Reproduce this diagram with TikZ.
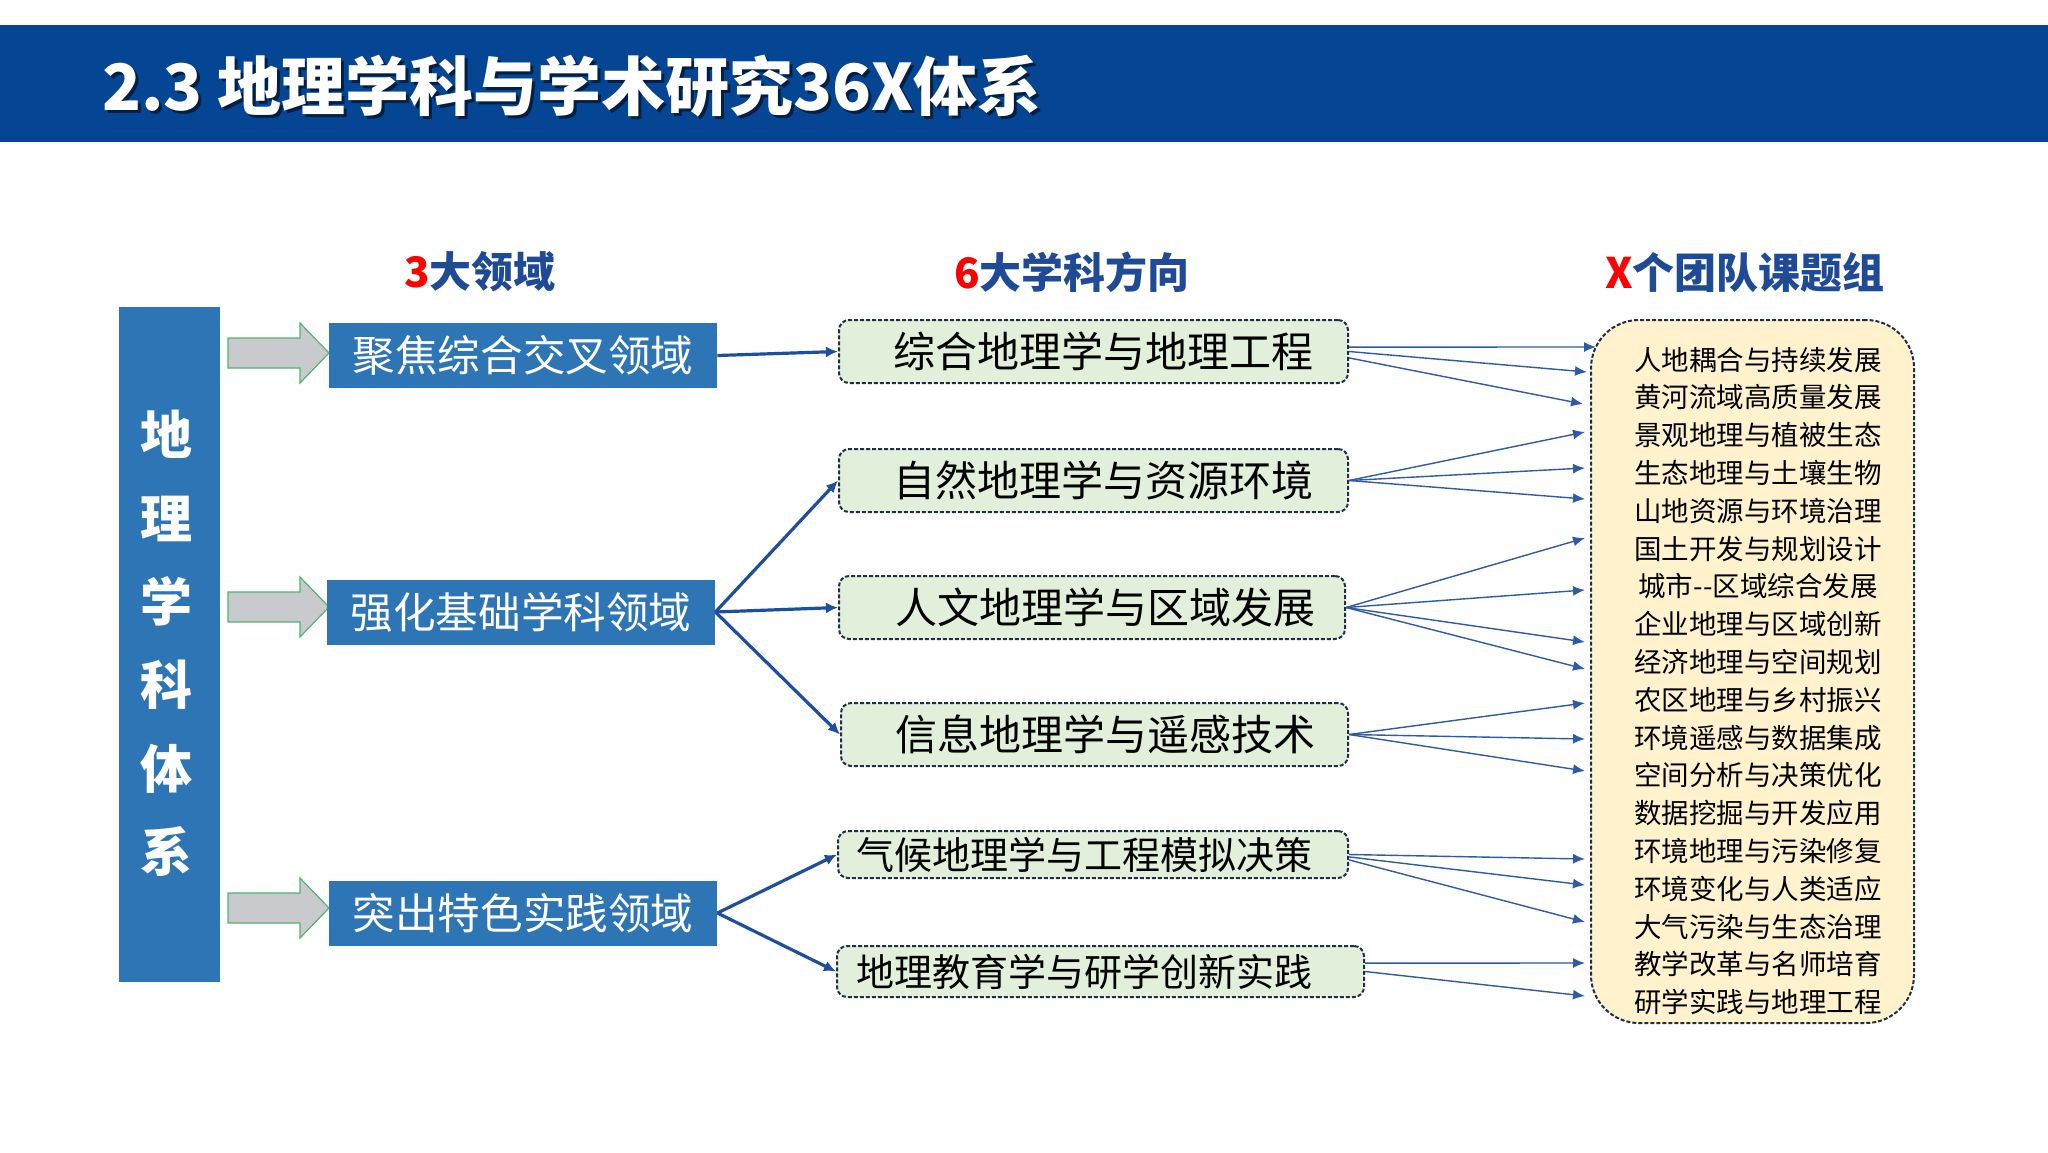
\documentclass[tikz,border=0pt]{standalone}
\usepackage{fontspec}
\setmainfont{Noto Sans CJK SC}
\usetikzlibrary{arrows.meta}
\definecolor{barblue}{RGB}{4,69,148}
\definecolor{boxblue}{RGB}{46,117,182}
\definecolor{headblue}{RGB}{30,74,150}
\definecolor{dirfill}{RGB}{226,239,218}
\definecolor{lstfill}{RGB}{255,242,204}
\definecolor{dashcol}{RGB}{32,46,72}
\definecolor{arrblue}{RGB}{30,78,156}
\definecolor{thinblue}{RGB}{47,90,165}
\definecolor{arrgray}{RGB}{200,202,206}
\definecolor{arrgreen}{RGB}{84,180,110}
\begin{document}
\begin{tikzpicture}[x=0.5pt,y=-0.5pt,
  domainbox/.style={fill=boxblue, draw=none, minimum width=194pt, minimum height=32.5pt, inner sep=0pt, text=white, font=\fontsize{21.3pt}{24pt}\selectfont},
  dirbox/.style={fill=dirfill, draw=dashcol, line width=1pt, dash pattern=on 2pt off 1pt, rounded corners=5pt, inner sep=0pt},
  dirtext/.style={anchor=east, inner sep=0pt, font=\fontsize{21pt}{24pt}\selectfont},
  dirtextsmall/.style={anchor=east, inner sep=0pt, font=\fontsize{19pt}{22pt}\selectfont},
  headtext/.style={inner sep=0pt, text=headblue, font=\bfseries\fontsize{21pt}{24pt}\selectfont},
  bigarrow/.style={draw=arrblue, line width=1.6pt, -{Latex[length=6pt,width=5.5pt]}},
  smallarrow/.style={draw=thinblue, line width=0.7pt, -{Latex[length=6pt,width=5pt]}},
  grayarrow/.style={fill=arrgray, draw=arrgreen, line width=0.6pt}
]
\useasboundingbox (0,0) rectangle (2048,1152);
\fill[white] (0,0) rectangle (2048,1152);
% title bar
\fill[barblue] (0,25) rectangle (2048,142);
\node[anchor=west, inner sep=0pt, text=black, opacity=0.55, font=\bfseries\fontsize{32pt}{36pt}\selectfont] (titleshadow) at (105,89) {2.3 地理学科与学术研究36X体系};
\node[anchor=west, inner sep=0pt, text=white, font=\bfseries\fontsize{32pt}{36pt}\selectfont] (title) at (102,86) {2.3 地理学科与学术研究36X体系};
% headers
\node[headtext] (h1) at (480,272) {{\color{red}3}大领域};
\node[headtext] (h2) at (1072,272) {{\color{red}6}大学科方向};
\node[headtext] (h3) at (1745,272) {{\color{red}X}个团队课题组};
% left vertical box
\node[fill=boxblue, minimum width=50.5pt, minimum height=337.5pt, inner sep=0pt] (vbox) at (169.5,644.5) {};
\node[text=white, align=center, inner sep=0pt, font=\bfseries\fontsize{26pt}{41.7pt}\selectfont] (vtext) at (166,643.5) {地\\理\\学\\科\\体\\系};
% gray arrows
\foreach \yy in {353,607,908}{
  \filldraw[grayarrow] (228,\yy-15) -- (300,\yy-15) -- (300,\yy-30) -- (329,\yy) -- (300,\yy+30) -- (300,\yy+15) -- (228,\yy+15) -- cycle;
}
% domain boxes
\node[domainbox] (d1) at (523,355.5) {聚焦综合交叉领域};
\node[domainbox] (d2) at (521,612) {强化基础学科领域};
\node[domainbox] (d3) at (523,913) {突出特色实践领域};
% direction boxes
\node[dirbox, minimum width=254.5pt, minimum height=31.5pt] (r1) at (1093.5,351.5) {};
\node[dirbox, minimum width=254.5pt, minimum height=31.5pt] (r2) at (1093.5,480.5) {};
\node[dirbox, minimum width=253pt, minimum height=31.5pt] (r3) at (1092,607.5) {};
\node[dirbox, minimum width=253.5pt, minimum height=31.5pt] (r4) at (1094.5,734.5) {};
\node[dirbox, minimum width=255pt, minimum height=23.5pt] (r5) at (1093,854.5) {};
\node[dirbox, minimum width=263.5pt, minimum height=25.5pt] (r6) at (1100.5,971.5) {};
\node[dirtext] (r1t) at (1314,351.5) {综合地理学与地理工程};
\node[dirtext] (r2t) at (1314,480.5) {自然地理学与资源环境};
\node[dirtext] (r3t) at (1316,607.5) {人文地理学与区域发展};
\node[dirtext] (r4t) at (1316,734.5) {信息地理学与遥感技术};
\node[dirtextsmall] (r5t) at (1313,854.5) {气候地理学与工程模拟决策};
\node[dirtextsmall] (r6t) at (1313,971.5) {地理教育学与研学创新实践};
% right list box
\node[fill=lstfill, draw=dashcol, line width=1pt, dash pattern=on 2pt off 1pt, rounded corners=24pt, minimum width=161.5pt, minimum height=351.5pt, inner sep=0pt] (rb) at (1752.5,671.5) {};
\node[align=center, inner sep=0pt, font=\fontsize{13.75pt}{18.9pt}\selectfont] (lst) at (1758,681) {人地耦合与持续发展\\黄河流域高质量发展\\景观地理与植被生态\\生态地理与土壤生物\\山地资源与环境治理\\国土开发与规划设计\\城市-{}-区域综合发展\\企业地理与区域创新\\经济地理与空间规划\\农区地理与乡村振兴\\环境遥感与数据集成\\空间分析与决策优化\\数据挖掘与开发应用\\环境地理与污染修复\\环境变化与人类适应\\大气污染与生态治理\\教学改革与名师培育\\研学实践与地理工程};
% thick arrows
\draw[bigarrow] (d1.east) -- (r1.west);
\draw[bigarrow] (d2.east) -- (r2.west);
\draw[bigarrow] (d2.east) -- (r3.west);
\draw[bigarrow] (d2.east) -- (r4.west);
\draw[bigarrow] (d3.east) -- (r5.west);
\draw[bigarrow] (d3.east) -- (r6.west);
% tip coordinates
\coordinate (t1) at (1596,347);
\coordinate (t2) at (1587,372);
\coordinate (t3) at (1583,404);
\coordinate (t4) at (1585,432);
\coordinate (t5) at (1585,468);
\coordinate (t6) at (1585,499);
\coordinate (t7) at (1585,538);
\coordinate (t8) at (1585,590);
\coordinate (t9) at (1585,642);
\coordinate (t10) at (1585,669);
\coordinate (t11) at (1585,703);
\coordinate (t12) at (1585,739);
\coordinate (t13) at (1585,771);
\coordinate (t14) at (1585,859);
\coordinate (t15) at (1585,885);
\coordinate (t16) at (1585,922);
\coordinate (t17) at (1585,963);
\coordinate (t18) at (1585,996);
% thin arrows
\draw[smallarrow] ([yshift=2.2pt]r1.east) -- (t1);
\draw[smallarrow] (r1.east) -- (t2);
\draw[smallarrow] ([yshift=-3.2pt]r1.east) -- (t3);
\draw[smallarrow] (r2.east) -- (t4);
\draw[smallarrow] (r2.east) -- (t5);
\draw[smallarrow] (r2.east) -- (t6);
\draw[smallarrow] (r3.east) -- (t7);
\draw[smallarrow] (r3.east) -- (t8);
\draw[smallarrow] (r3.east) -- (t9);
\draw[smallarrow] (r3.east) -- (t10);
\draw[smallarrow] (r4.east) -- (t11);
\draw[smallarrow] (r4.east) -- (t12);
\draw[smallarrow] (r4.east) -- (t13);
\draw[smallarrow] (r5.east) -- (t14);
\draw[smallarrow] ([yshift=-1.2pt]r5.east) -- (t15);
\draw[smallarrow] ([yshift=-2.7pt]r5.east) -- (t16);
\draw[smallarrow] ([yshift=4.2pt]r6.east) -- (t17);
\draw[smallarrow] (r6.east) -- (t18);
\end{tikzpicture}
\end{document}
